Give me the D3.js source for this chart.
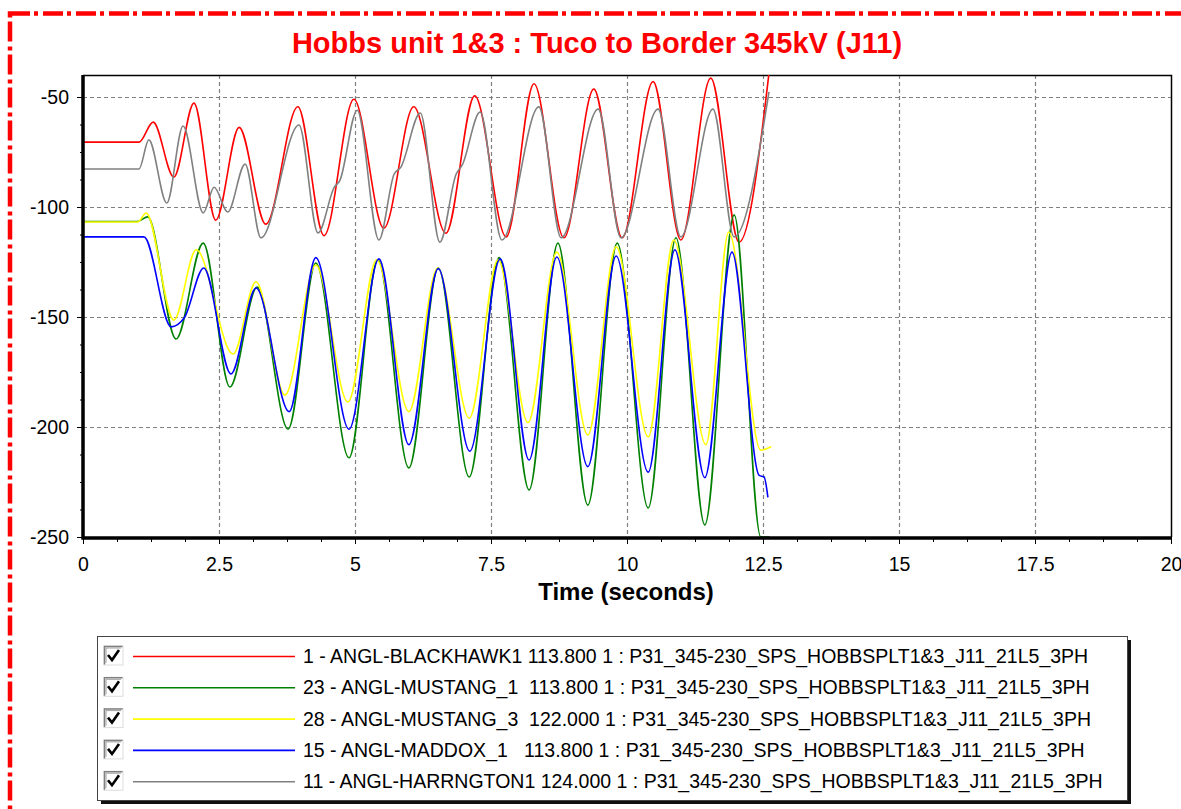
<!DOCTYPE html>
<html>
<head>
<meta charset="utf-8">
<script src="https://cdn.jsdelivr.net/npm/d3@7"></script>
<style>
  html, body { margin: 0; padding: 0; background: #fff; }
  svg { display: block; }
  text { font-family: Arial, "Liberation Sans", sans-serif; }
</style>
</head>
<body>
<svg id="chart" width="1181" height="809"></svg>
<script>
// Rotor angle traces (degrees) vs time (seconds)
const blackhawkT = [0, 1.03, 1.29, 1.67, 2.04, 2.44, 2.87, 3.36, 3.95, 4.43, 4.98, 5.53, 6.08, 6.67, 7.2, 7.78, 8.29, 8.84, 9.39, 9.91, 10.48, 10.99, 11.54, 12.06, 12.62];
const blackhawkV = [-70.5, -70.5, -61.4, -86.4, -52.8, -106, -63.8, -107.8, -54.4, -113, -51, -109.6, -54.4, -111.9, -49.5, -113.6, -44, -114, -46.4, -114, -43, -115, -41.4, -116, -37];

const mustang1T = [0, 1.0, 1.19, 1.71, 2.21, 2.7, 3.2, 3.77, 4.28, 4.89, 5.42, 5.99, 6.53, 7.1, 7.65, 8.2, 8.73, 9.28, 9.82, 10.39, 10.9, 11.43, 11.97, 12.46, 12.62];
const mustang1V = [-106.6, -106.6, -104.5, -160, -116.4, -181.8, -136.4, -200.9, -125.5, -214, -124, -218.6, -127.7, -222.7, -123, -228.6, -116.4, -235.5, -116.4, -236.8, -114, -244.5, -103.6, -250, -250];

const mustang3T = [0, 1.01, 1.16, 1.67, 2.08, 2.76, 3.18, 3.71, 4.28, 4.87, 5.4, 5.99, 6.52, 7.1, 7.63, 8.18, 8.71, 9.28, 9.8, 10.39, 10.86, 11.45, 11.87, 12.46, 12.65];
const mustang3V = [-106.8, -106.8, -102.7, -151.4, -119.5, -166.8, -134, -185.5, -126.4, -188.6, -124, -193, -127.7, -196, -124, -198, -120.5, -203.6, -118, -204.5, -115, -208, -111.4, -210.5, -209];

const maddoxT = [0, 1.12, 1.62, 1.86, 2.22, 2.72, 3.18, 3.79, 4.28, 4.89, 5.44, 5.99, 6.53, 7.11, 7.67, 8.2, 8.71, 9.28, 9.8, 10.39, 10.88, 11.43, 11.93, 12.43, 12.52, 12.59];
const maddoxV = [-113.6, -113.6, -154.5, -150.5, -127.7, -175.9, -136.8, -193, -123, -201, -123.6, -208, -128, -211, -123.6, -215, -122.7, -218, -122.3, -220.5, -119.5, -223, -120.5, -222, -222.7, -232];

const harrngtonT = [0, 1.03, 1.21, 1.54, 1.84, 2.21, 2.41, 2.66, 2.98, 3.27, 3.97, 4.32, 4.62, 4.72, 5.04, 5.44, 5.72, 5.84, 6.2, 6.56, 6.86, 6.97, 7.3, 7.7, 8.38, 8.79, 9.47, 9.89, 10.57, 10.99, 11.58, 11.97, 12.61];
const harrngtonV = [-82.7, -82.7, -69.5, -98.2, -63.2, -102.7, -91, -102.3, -80.5, -114, -62.7, -111.8, -91, -88, -56, -115, -85, -82, -57.3, -116, -85, -81, -56.8, -115, -54.5, -114, -55.5, -114, -55.5, -113.6, -55.5, -113.6, -47.7];

const seriesLabels = [
  "1 - ANGL-BLACKHAWK1 113.800 1 : P31_345-230_SPS_HOBBSPLT1&3_J11_21L5_3PH",
  "23 - ANGL-MUSTANG_1  113.800 1 : P31_345-230_SPS_HOBBSPLT1&3_J11_21L5_3PH",
  "28 - ANGL-MUSTANG_3  122.000 1 : P31_345-230_SPS_HOBBSPLT1&3_J11_21L5_3PH",
  "15 - ANGL-MADDOX_1   113.800 1 : P31_345-230_SPS_HOBBSPLT1&3_J11_21L5_3PH",
  "11 - ANGL-HARRNGTON1 124.000 1 : P31_345-230_SPS_HOBBSPLT1&3_J11_21L5_3PH"
];
const seriesColors = ["#ff0000", "#008000", "#ffff00", "#0000ff", "#808080"];

const xTicks = [0, 2.5, 5, 7.5, 10, 12.5, 15, 17.5, 20];
const yTicks = [-50, -100, -150, -200, -250];

const titleText = "Hobbs unit 1&3 : Tuco to Border 345kV (J11)";
const xAxisTitle = "Time (seconds)";

const series = [
  [blackhawkT, blackhawkV],
  [mustang1T, mustang1V],
  [mustang3T, mustang3V],
  [maddoxT, maddoxV],
  [harrngtonT, harrngtonV]
].map(([t, v], i) => ({
  label: seriesLabels[i],
  color: seriesColors[i],
  points: t.map((tt, k) => ({ t: tt, v: v[k] }))
}));

const svg = d3.select("#chart");

// Frame: red dash-dot outline
svg.append("rect")
  .attr("x", 10).attr("y", 13.5)
  .attr("width", 1220).attr("height", 840)
  .attr("fill", "none")
  .attr("stroke", "#ff0000")
  .attr("stroke-width", 4.5)
  .attr("stroke-dasharray", "20,4,4,5");

// Title
svg.append("text")
  .attr("x", 597).attr("y", 53)
  .attr("text-anchor", "middle")
  .attr("font-size", 29)
  .attr("font-weight", "bold")
  .attr("fill", "#ff0000")
  .text(titleText);

const plot = { left: 83, right: 1171, top: 75, bottom: 537 };

const x = d3.scaleLinear().domain([0, 20]).range([plot.left, plot.right]);
const y = d3.scaleLinear().domain([-250, -40]).range([plot.bottom, plot.top]);

// Grid
const grid = svg.append("g").attr("stroke", "#808080").attr("stroke-width", 1.2)
  .attr("stroke-dasharray", "4,3");
grid.selectAll("line.v").data(xTicks.slice(1, -1)).join("line")
  .attr("x1", d => Math.round(x(d)) + 0.5).attr("x2", d => Math.round(x(d)) + 0.5)
  .attr("y1", plot.top).attr("y2", plot.bottom);
grid.selectAll("line.h").data(yTicks).join("line")
  .attr("y1", d => Math.round(y(d)) + 0.5).attr("y2", d => Math.round(y(d)) + 0.5)
  .attr("x1", plot.left).attr("x2", plot.right);

// Top and right borders
svg.append("path")
  .attr("d", `M${plot.left},${plot.top + 0.5}H${plot.right + 0.5}V${plot.bottom}`)
  .attr("fill", "none").attr("stroke", "#000").attr("stroke-width", 1.5);

// Series
svg.append("clipPath").attr("id", "plotClip")
  .append("rect")
  .attr("x", plot.left).attr("y", plot.top)
  .attr("width", plot.right - plot.left).attr("height", plot.bottom - plot.top + 1);

const line = d3.line()
  .x(d => x(d.t))
  .y(d => y(d.v))
  .curve(d3.curveMonotoneX);

svg.append("g").attr("clip-path", "url(#plotClip)")
  .selectAll("path").data(series).join("path")
  .attr("d", d => line(d.points))
  .attr("fill", "none")
  .attr("stroke", d => d.color)
  .attr("stroke-width", 1.6);

// Axes
const minorY = d3.range(-250, -40 + 0.001, 12.5);
const minorX = d3.range(0, 20 + 0.001, 0.625);

const yAxisMinor = d3.axisLeft(y).tickValues(minorY).tickSize(3).tickFormat("");
const yAxis = d3.axisLeft(y).tickValues(yTicks).tickSize(6).tickPadding(8).tickFormat(d => String(d));
const xAxisMinor = d3.axisBottom(x).tickValues(minorX).tickSize(4).tickFormat("");
const xAxis = d3.axisBottom(x).tickValues(xTicks).tickSize(6).tickPadding(13).tickFormat(d => String(d));

function styleAxis(g) {
  g.select(".domain").remove();
  g.selectAll(".tick line").attr("stroke", "#000").attr("stroke-width", 1);
  g.selectAll(".tick text")
    .attr("font-size", 19.5)
    .attr("font-family", 'Arial, "Liberation Sans", sans-serif')
    .attr("fill", "#000");
}

svg.append("g").attr("transform", `translate(${plot.left},0)`).call(yAxisMinor).call(styleAxis);
svg.append("g").attr("transform", `translate(${plot.left},0)`).call(yAxis).call(styleAxis);
svg.append("g").attr("transform", `translate(0,${plot.bottom + 1})`).call(xAxisMinor).call(styleAxis);
svg.append("g").attr("transform", `translate(0,${plot.bottom + 1})`).call(xAxis).call(styleAxis);

// Thick left and bottom axis lines
svg.append("path")
  .attr("d", `M${plot.left},${plot.top}V${plot.bottom + 1}H${plot.right + 1}`)
  .attr("fill", "none").attr("stroke", "#000").attr("stroke-width", 3.5);

svg.append("text")
  .attr("x", 626).attr("y", 600)
  .attr("text-anchor", "middle")
  .attr("font-size", 24)
  .attr("font-weight", "bold")
  .attr("fill", "#000")
  .text(xAxisTitle);

// Legend
const lg = { x: 97, y: 636, w: 1030, h: 164, rowY0: 656, rowStep: 31.3 };
svg.append("rect")
  .attr("x", lg.x + 4).attr("y", lg.y + 4)
  .attr("width", lg.w).attr("height", lg.h)
  .attr("fill", "#111");
svg.append("rect")
  .attr("x", lg.x + 0.5).attr("y", lg.y + 0.5)
  .attr("width", lg.w).attr("height", lg.h)
  .attr("fill", "#fff").attr("stroke", "#444").attr("stroke-width", 1);

const rows = svg.append("g").selectAll("g").data(series).join("g")
  .attr("transform", (d, i) => `translate(0,${lg.rowY0 + i * lg.rowStep})`);

// Checkbox with sunken border
rows.append("rect")
  .attr("x", 104).attr("y", -10).attr("width", 19).attr("height", 19)
  .attr("fill", "#fff").attr("stroke", "#dcdcdc").attr("stroke-width", 1);
rows.append("path")
  .attr("d", "M104.5,8.5V-9.5H122.5")
  .attr("fill", "none").attr("stroke", "#808080").attr("stroke-width", 1.5);
rows.append("path")
  .attr("d", "M106,-8V7M106,-8H121")
  .attr("fill", "none").attr("stroke", "#a0a0a0").attr("stroke-width", 1);
rows.append("path")
  .attr("d", "M108,-1L112,4L119,-6")
  .attr("fill", "none").attr("stroke", "#000").attr("stroke-width", 2.6);

rows.append("line")
  .attr("x1", 133).attr("x2", 295).attr("y1", 0.5).attr("y2", 0.5)
  .attr("stroke", d => d.color).attr("stroke-width", 1.6);

rows.append("text")
  .attr("x", 303).attr("y", 7)
  .attr("font-size", 19.5)
  .attr("fill", "#000")
  .style("white-space", "pre")
  .text(d => d.label);
</script>
</body>
</html>
